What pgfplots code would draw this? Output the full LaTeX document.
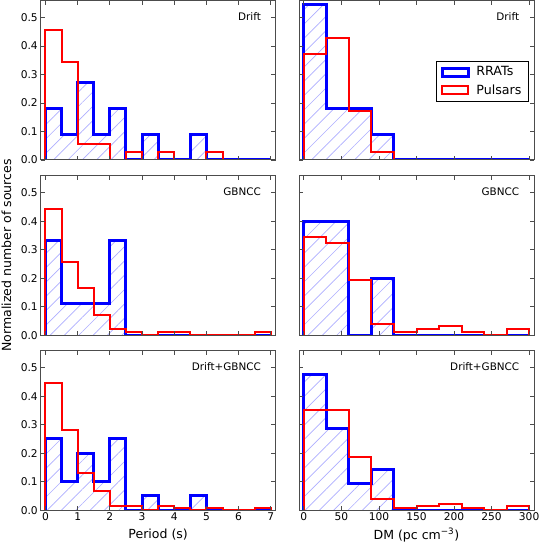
\documentclass[border=0pt]{standalone}
\usepackage{fontspec}
\setmainfont{DejaVu Sans}
\usepackage{pgfplots}
\pgfplotsset{compat=1.18}
\usetikzlibrary{patterns.meta}
\tikzset{plab/.style={font=\fontsize{7.8}{9}\selectfont, anchor=east}}
\pgfplotsset{
 hp/.style={
   scale only axis, width=176.25pt, height=119.6pt,
   ymin=0, ymax=0.56,
   ytick={0,0.1,0.2,0.3,0.4,0.5},
   axis on top,
   tick align=inside,
   major tick length=3.3pt,
   tick style={black!70, line width=0.6pt},
   axis line style={black!70, line width=0.75pt},
   tick label style={font=\fontsize{8}{9.6}\selectfont},
   /pgf/number format/assume math mode=true,
   yticklabel style={inner sep=2pt, /pgf/number format/.cd, fixed, fixed zerofill, precision=1},
   xticklabel style={inner sep=2pt},
   label style={font=\fontsize{9.4}{11}\selectfont},
   anchor=north west,
 },
 per/.style={xmin=-0.15, xmax=7.15, xtick={0,1,2,3,4,5,6,7}},
 dm/.style={xmin=-6.5, xmax=306.5, xtick={0,50,100,150,200,250,300}},
 rr/.style={const plot mark right, draw=blue, line width=2.25pt, forget plot,
   pattern={Lines[angle=45,distance=7.6pt,line width=0.5pt]}, pattern color=blue!32},
 ps/.style={const plot mark right, draw=red, line width=1.5pt, forget plot},
}
\begin{document}
\begin{tikzpicture}
\useasboundingbox (0,0) rectangle (405pt,-407.25pt);
% ---------- top left
\begin{axis}[hp, per, at={(30.5pt,-0.4pt)}, xticklabels={}]
\addplot[rr] coordinates {(0,0)(0.5,0.1818)(1,0.0909)(1.5,0.2727)(2,0.0909)(2.5,0.1818)(3,0)(3.5,0.0909)(4,0)(4.5,0)(5,0.0909)(5.5,0)(6,0)(6.5,0)(7,0)};
\addplot[ps] coordinates {(0,0)(0.5,0.4571)(1,0.3429)(1.5,0.0571)(2,0.0571)(2.5,0)(3,0.0286)(3.5,0)(4,0.0286)(4.5,0)(5,0)(5.5,0.0286)(5.5,0)};
\node[plab] at (rel axis cs:0.957,0.9) {Drift};
\end{axis}
% ---------- top right
\begin{axis}[hp, dm, at={(224.25pt,-0.4pt)}, xticklabels={}, yticklabels={},
  legend style={at={(axis description cs:0.98,0.623)}, anchor=north east, draw=black, line width=0.75pt,
    font=\fontsize{9.5}{11.5}\selectfont, inner xsep=3.5pt, inner ysep=2pt, row sep=1pt, cells={anchor=west},
    /tikz/every odd column/.append style={column sep=3pt}}]
\addplot[rr] coordinates {(0,0)(30,0.5455)(60,0.1818)(90,0.1818)(120,0.0909)(150,0)(180,0)(210,0)(240,0)(270,0)(300,0)};
\addplot[ps] coordinates {(0,0)(30,0.3714)(60,0.4286)(90,0.1714)(120,0.0286)(120,0)};
\addlegendimage{legend image code/.code={\draw[blue, line width=2.25pt, fill=white] (0pt,-3pt) rectangle (19.5pt,3pt);}}
\addlegendentry{RRATs}
\addlegendimage{legend image code/.code={\draw[red, line width=1.5pt, fill=white] (0pt,-3pt) rectangle (19.5pt,3pt);}}
\addlegendentry{Pulsars}
\node[plab] at (rel axis cs:0.957,0.9) {Drift};
\end{axis}
% ---------- middle left
\begin{axis}[hp, per, at={(30.5pt,-131.8pt)}, xticklabels={},
  ylabel={Normalized number of sources}, ylabel style={at={(axis description cs:-0.1455,0.5)}, anchor=center}]
\addplot[rr] coordinates {(0,0)(0.5,0.3333)(1,0.1111)(1.5,0.1111)(2,0.1111)(2.5,0.3333)(3,0)(3.5,0)(4,0)(4.5,0)(5,0)(5.5,0)(6,0)(6.5,0)(7,0)};
\addplot[ps] coordinates {(0,0)(0.5,0.4433)(1,0.2577)(1.5,0.1649)(2,0.0722)(2.5,0.0206)(3,0.0103)(3.5,0)(4,0.0103)(4.5,0.0103)(5,0)(5.5,0)(6,0)(6.5,0)(7,0.0103)(7,0)};
\node[plab] at (rel axis cs:0.957,0.9) {GBNCC};
\end{axis}
% ---------- middle right
\begin{axis}[hp, dm, at={(224.25pt,-131.8pt)}, xticklabels={}, yticklabels={}]
\addplot[rr] coordinates {(0,0)(30,0.4)(60,0.4)(90,0)(120,0.2)(150,0)(180,0)(210,0)(240,0)(270,0)(300,0)};
\addplot[ps] coordinates {(0,0)(30,0.344)(60,0.324)(90,0.194)(120,0.041)(150,0.0103)(180,0.0206)(210,0.0309)(240,0.0103)(270,0)(300,0.0206)(300,0)};
\node[plab] at (rel axis cs:0.957,0.9) {GBNCC};
\end{axis}
% ---------- bottom left
\begin{axis}[hp, per, at={(30.5pt,-263pt)},
  xlabel={Period (s)}, xlabel style={at={(axis description cs:0.5,-0.154)}, anchor=center}]
\addplot[rr] coordinates {(0,0)(0.5,0.25)(1,0.1)(1.5,0.2)(2,0.1)(2.5,0.25)(3,0)(3.5,0.05)(4,0)(4.5,0)(5,0.05)(5.5,0)(6,0)(6.5,0)(7,0)};
\addplot[ps] coordinates {(0,0)(0.5,0.447)(1,0.280)(1.5,0.131)(2,0.068)(2.5,0.015)(3,0.015)(3.5,0)(4,0.015)(4.5,0.0076)(5,0)(5.5,0.0076)(6,0)(6.5,0)(7,0.0076)(7,0)};
\node[plab] at (rel axis cs:0.957,0.9) {Drift+GBNCC};
\end{axis}
% ---------- bottom right
\begin{axis}[hp, dm, at={(224.25pt,-263pt)}, yticklabels={},
  xlabel={DM (pc cm\textsuperscript{−3})}, xlabel style={at={(axis description cs:0.5,-0.154)}, anchor=center}]
\addplot[rr] coordinates {(0,0)(30,0.476)(60,0.286)(90,0.095)(120,0.143)(150,0)(180,0)(210,0)(240,0)(270,0)(300,0)};
\addplot[ps] coordinates {(0,0)(30,0.353)(60,0.350)(90,0.186)(120,0.038)(150,0.0076)(180,0.015)(210,0.023)(240,0.0076)(270,0)(300,0.015)(300,0)};
\node[plab] at (rel axis cs:0.957,0.9) {Drift+GBNCC};
\end{axis}
\end{tikzpicture}
\end{document}
